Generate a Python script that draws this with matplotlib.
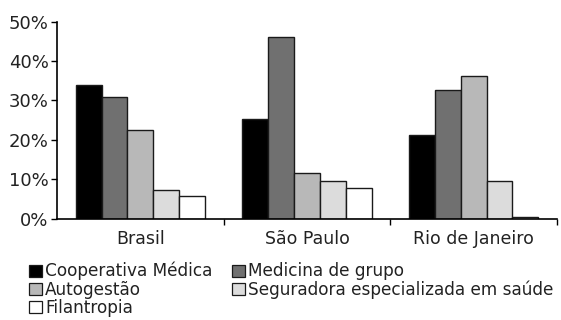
import matplotlib
matplotlib.use("Agg")
import matplotlib.pyplot as plt
import numpy as np
from matplotlib.patches import Patch

plt.rcParams['font.family'] = ['DejaVu Sans']

regions = ["Brasil", "São Paulo", "Rio de Janeiro"]
series = ["Cooperativa Médica", "Medicina de grupo", "Autogestão",
          "Seguradora especializada em saúde", "Filantropia"]
values = {
    "Cooperativa Médica": [33.8, 25.3, 21.1],
    "Medicina de grupo": [30.8, 46.0, 32.6],
    "Autogestão": [22.5, 11.5, 36.2],
    "Seguradora especializada em saúde": [7.3, 9.5, 9.5],
    "Filantropia": [5.8, 7.7, 0.5],
}
colors = ["#000000", "#707070", "#b8b8b8", "#dcdcdc", "#ffffff"]
yticks = [0, 10, 20, 30, 40, 50]

fig = plt.figure(figsize=(5.61, 3.2), dpi=100)
ax = fig.add_axes([57 / 561, 1 - 218.5 / 320, 500 / 561, (218.5 - 21.7) / 320])

x = np.arange(len(regions))
n = len(series)
group_w = 0.775
bw = group_w / n
handles = []
for i, (name, c) in enumerate(zip(series, colors)):
    offs = -group_w / 2 + bw * (i + 0.5)
    ax.bar(x + offs, values[name], width=bw, color=c, edgecolor="#1a1a1a", linewidth=1.0)
    handles.append(Patch(facecolor=c, edgecolor="#1a1a1a", linewidth=0.9, label=name))

ax.set_xlim(-0.5, len(regions) - 0.5)
ax.set_ylim(0, 50)
ax.set_yticks(yticks)
ax.set_yticklabels([f"{t}%" for t in yticks])
ax.set_xticks(x)
ax.set_xticklabels(regions)
ax.set_xticks(np.arange(len(regions)) + 0.5, minor=True)
ax.tick_params(axis="x", which="major", length=0, pad=8, labelsize=12.5, labelcolor="#222222")
ax.tick_params(axis="x", which="minor", length=4, width=1, direction="out")
ax.tick_params(axis="y", length=4, width=1, direction="out", pad=2, labelsize=13, labelcolor="#222222")
for s in ["top", "right"]:
    ax.spines[s].set_visible(False)
for s in ["left", "bottom"]:
    ax.spines[s].set_linewidth(1.2)

order = [0, 2, 4, 1, 3]
fig.legend([handles[i] for i in order], [series[i] for i in order],
           ncol=2, loc="upper left", bbox_to_anchor=(29 / 561, 1 - 262 / 320),
           frameon=False, fontsize=12.2, handlelength=0.75, handleheight=0.72,
           handletextpad=0.2, columnspacing=1.15, labelspacing=0.02,
           borderpad=0, borderaxespad=0, labelcolor="#222222")

fig.savefig("out.png", dpi=100)
